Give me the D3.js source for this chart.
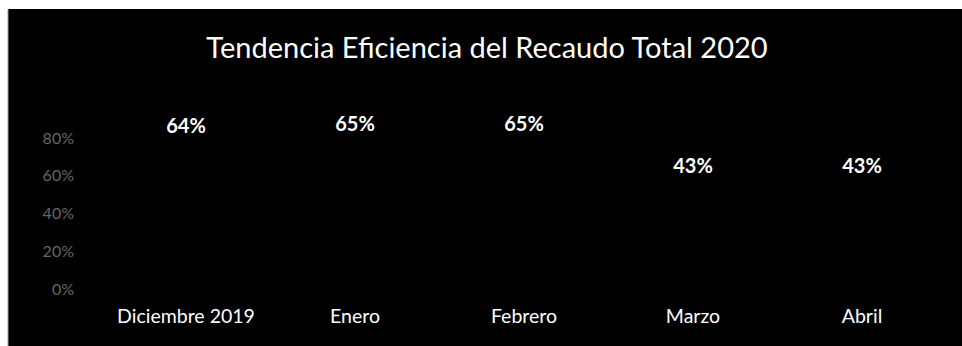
<!DOCTYPE html>
<html>
<head>
<meta charset="utf-8">
<script src="https://cdn.jsdelivr.net/npm/d3@7"></script>
<style>
  body { margin: 0; background: #fff; }
  text { font-family: Lato, 'Open Sans', sans-serif; }
</style>
</head>
<body>
<svg id="chart"></svg>
<script>
//
// Data
//

const categories = ['Diciembre 2019', 'Enero', 'Febrero', 'Marzo', 'Abril'];
const values = [0.64, 0.65, 0.65, 0.43, 0.43];
const yTicks = [0, 0.2, 0.4, 0.6, 0.8];
const titleText = 'Tendencia Eficiencia del Recaudo Total 2020';

//
// Set-up
//

const width = 962;
const height = 346;
const panel = { left: 8, top: 9 };

const svg = d3.select('#chart')
  .attr('width', width)
  .attr('height', height);

// black chart area (scanned slide)
svg.append('rect')
  .attr('x', panel.left)
  .attr('y', panel.top)
  .attr('width', width - panel.left)
  .attr('height', height - panel.top)
  .style('fill', '#000');

// thin grey edge on the left of the scan
svg.append('line')
  .attr('x1', panel.left).attr('x2', panel.left)
  .attr('y1', panel.top).attr('y2', height)
  .style('stroke', '#9a9a9a')
  .style('stroke-width', 1);

// Title
svg.append('text')
  .attr('x', 487)
  .attr('y', 58)
  .attr('text-anchor', 'middle')
  .style('font-size', '29px')
  .style('fill', '#fff')
  .text(titleText);

//
// Scales & Axes
//

const xScale = d3.scalePoint()
  .domain(categories)
  .range([186, 862]);

const yScale = d3.scaleLinear()
  .domain([0, 0.8])
  .range([289, 138]);

// y tick labels, very faint in the reference
svg.append('g')
  .attr('class', 'y axis')
  .selectAll('text')
  .data(yTicks)
  .enter().append('text')
    .attr('x', 74)
    .attr('y', d => yScale(d))
    .attr('dy', '.35em')
    .attr('text-anchor', 'end')
    .style('font-size', '16px')
    .style('fill', '#666')
    .text(d => d3.format('.0%')(d));

// category labels
svg.append('g')
  .attr('class', 'x axis')
  .selectAll('text')
  .data(categories)
  .enter().append('text')
    .attr('x', d => xScale(d))
    .attr('y', 323)
    .attr('text-anchor', 'middle')
    .style('font-size', '19.5px')
    .style('fill', '#fff')
    .text(d => d);

//
// Line (black on black in the scan) + data labels
//

const points = categories.map((c, i) => ({ cat: c, value: values[i] }));

const line = d3.line()
  .x(d => xScale(d.cat))
  .y(d => yScale(d.value));

svg.append('path')
  .datum(points)
  .attr('d', line)
  .style('fill', 'none')
  .style('stroke', '#000')
  .style('stroke-width', 2);

svg.append('g')
  .attr('class', 'labels')
  .selectAll('text')
  .data(points)
  .enter().append('text')
    .attr('x', d => xScale(d.cat))
    .attr('y', d => yScale(d.value) - 42)
    .attr('dy', '.35em')
    .attr('text-anchor', 'middle')
    .style('font-size', '20px')
    .style('font-weight', 'bold')
    .style('fill', '#fff')
    .text(d => d3.format('.0%')(d.value));
</script>
</body>
</html>
